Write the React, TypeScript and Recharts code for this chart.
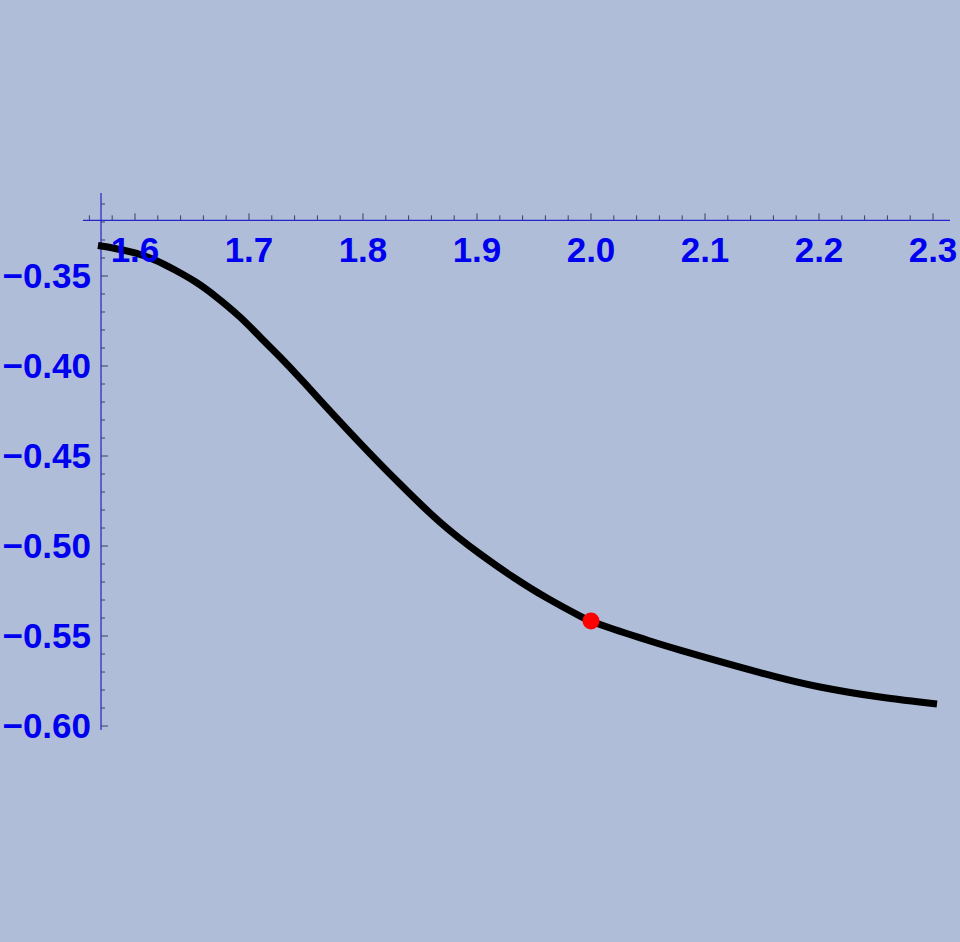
import React from 'react';
import { ComposedChart, Line, Scatter, XAxis, YAxis, ReferenceLine, ReferenceDot } from 'recharts';

// curve
const curveX = [1.5675, 1.5825, 1.6, 1.6175, 1.6351, 1.6526, 1.6702, 1.6921, 1.7097, 1.7272, 1.7447, 1.7623, 1.7974, 1.8325, 1.8675, 1.9026, 1.9316, 1.9614, 1.9904, 2.0, 2.0193, 2.0491, 2.0781, 2.1483, 2.2009, 2.2535, 2.3035];
const curveY = [-0.3331, -0.3347, -0.3372, -0.3411, -0.3467, -0.3531, -0.3611, -0.3728, -0.3839, -0.395, -0.4067, -0.4189, -0.4428, -0.4656, -0.4867, -0.5044, -0.5172, -0.5289, -0.5389, -0.5417, -0.5461, -0.5522, -0.5578, -0.5703, -0.5783, -0.5839, -0.5878];

const markerX = [2.0];
const markerY = [-0.5417];

const xMajorTicks = [1.6, 1.7, 1.8, 1.9, 2.0, 2.1, 2.2, 2.3];
const xMinorTicks = [1.56, 1.58, 1.62, 1.64, 1.66, 1.68, 1.72, 1.74, 1.76, 1.78, 1.82, 1.84, 1.86, 1.88, 1.92, 1.94, 1.96, 1.98, 2.02, 2.04, 2.06, 2.08, 2.12, 2.14, 2.16, 2.18, 2.22, 2.24, 2.26, 2.28];
const yMajorTicks = [-0.35, -0.4, -0.45, -0.5, -0.55, -0.6];
const yMinorTicks = [-0.31, -0.32, -0.33, -0.34, -0.36, -0.37, -0.38, -0.39, -0.41, -0.42, -0.43, -0.44, -0.46, -0.47, -0.48, -0.49, -0.51, -0.52, -0.53, -0.54, -0.56, -0.57, -0.58, -0.59];

// where the axes cross
const AXIS_X = 1.5702;
const AXIS_Y = -0.3191;

const X_DOMAIN: [number, number] = [1.5544, 2.3149];
const Y_DOMAIN: [number, number] = [-0.6022, -0.3039];

const curveData = curveX.map((x, i) => ({ x, y: curveY[i] }));
const markerData = markerX.map((x, i) => ({ x, y: markerY[i] }));

const AXIS_COLOR = '#2424c8';
const TICK_COLOR = '#3c3c70';
const LABEL_STYLE = {
  fill: '#0000f0',
  fontSize: 35,
  fontWeight: 700,
  fontFamily: '"Liberation Sans", Arial, sans-serif',
};

const fmtY = (v: number) => '\u2212' + Math.abs(v).toFixed(2);

export default function App() {
  return (
    <div style={{ position: 'absolute', left: 0, top: 0, width: 960, height: 942, background: '#afbdd8' }}>
      <ComposedChart width={960} height={942} margin={{ top: 193, right: 10, bottom: 212, left: 83 }}>
        <XAxis type="number" dataKey="x" domain={X_DOMAIN} allowDataOverflow hide />
        <YAxis type="number" dataKey="y" domain={Y_DOMAIN} allowDataOverflow hide />

        {/* axis lines */}
        <ReferenceLine
          segment={[{ x: X_DOMAIN[0], y: AXIS_Y }, { x: X_DOMAIN[1], y: AXIS_Y }]}
          stroke={AXIS_COLOR}
          strokeWidth={1.2}
          ifOverflow="visible"
        />
        <ReferenceLine
          segment={[{ x: AXIS_X, y: Y_DOMAIN[1] }, { x: AXIS_X, y: Y_DOMAIN[0] }]}
          stroke={AXIS_COLOR}
          strokeWidth={1.2}
          ifOverflow="visible"
        />

        {/* x ticks point up */}
        {xMajorTicks.map((t) => (
          <ReferenceLine
            key={'xM' + t}
            segment={[{ x: t, y: AXIS_Y }, { x: t, y: AXIS_Y + 0.0039 }]}
            stroke={TICK_COLOR}
            ifOverflow="visible"
          />
        ))}
        {xMinorTicks.map((t) => (
          <ReferenceLine
            key={'xm' + t}
            segment={[{ x: t, y: AXIS_Y }, { x: t, y: AXIS_Y + 0.0028 }]}
            stroke={TICK_COLOR}
            ifOverflow="visible"
          />
        ))}

        {/* y ticks point right */}
        {yMajorTicks.map((t) => (
          <ReferenceLine
            key={'yM' + t}
            segment={[{ x: AXIS_X, y: t }, { x: AXIS_X + 0.0061, y: t }]}
            stroke={TICK_COLOR}
            ifOverflow="visible"
          />
        ))}
        {yMinorTicks.map((t) => (
          <ReferenceLine
            key={'ym' + t}
            segment={[{ x: AXIS_X, y: t }, { x: AXIS_X + 0.0035, y: t }]}
            stroke={TICK_COLOR}
            ifOverflow="visible"
          />
        ))}

        {/* tick labels */}
        {xMajorTicks.map((t) => (
          <ReferenceDot
            key={'xl' + t}
            x={t}
            y={AXIS_Y}
            r={0}
            fill="none"
            stroke="none"
            ifOverflow="visible"
            label={{ value: t.toFixed(1), position: 'bottom', offset: 17, ...LABEL_STYLE }}
          />
        ))}
        {yMajorTicks.map((t) => (
          <ReferenceDot
            key={'yl' + t}
            x={AXIS_X}
            y={t}
            r={0}
            fill="none"
            stroke="none"
            ifOverflow="visible"
            label={{ value: fmtY(t), position: 'left', offset: 10, ...LABEL_STYLE }}
          />
        ))}

        <Line
          data={curveData}
          dataKey="y"
          type="natural"
          stroke="#000000"
          strokeWidth={7}
          dot={false}
          activeDot={false}
          isAnimationActive={false}
        />
        <Scatter
          data={markerData}
          dataKey="y"
          isAnimationActive={false}
          shape={(p: any) => <circle cx={p.cx} cy={p.cy} r={8.5} fill="#ff0000" />}
        />
      </ComposedChart>
    </div>
  );
}
